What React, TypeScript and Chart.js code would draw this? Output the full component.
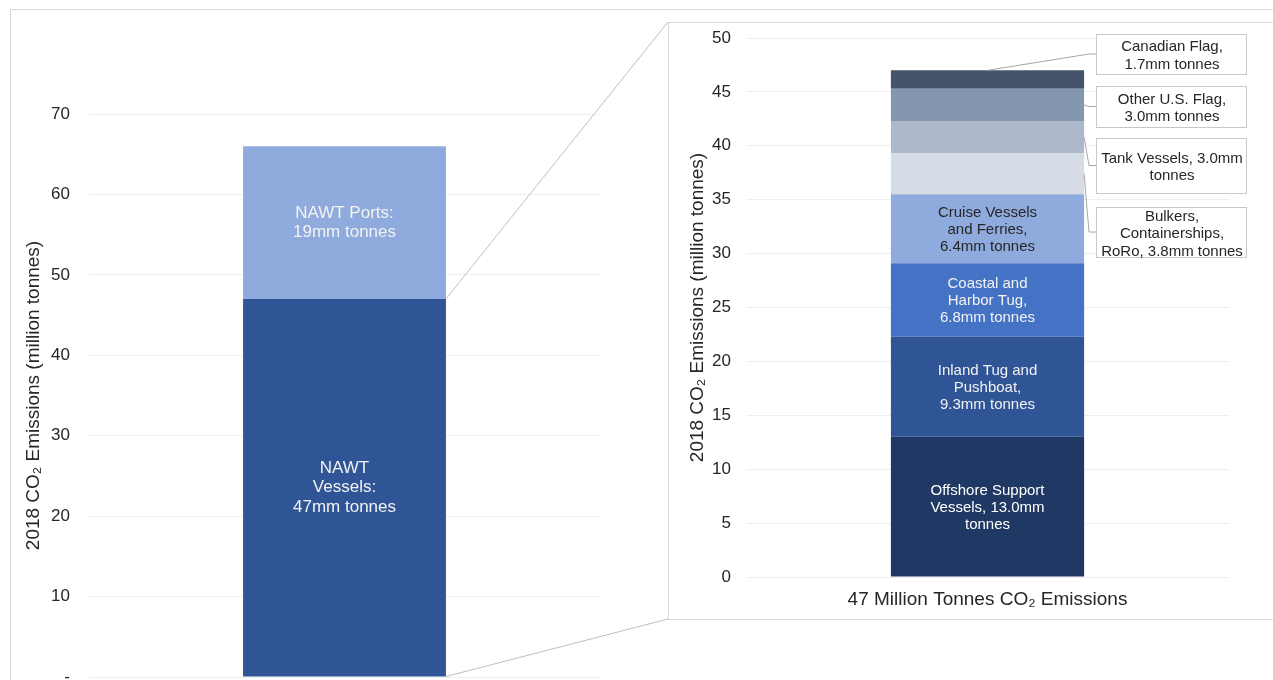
import React, { useEffect, useRef } from 'react';
import { Chart, registerables } from 'chart.js';

Chart.register(...registerables);

// ---------- data ----------
const overviewCategories = ['NAWT'];
const overviewSeries = ['NAWT Vessels', 'NAWT Ports'];
const overviewValues = [47, 19];
const overviewLabels = [
  ['NAWT', 'Vessels:', '47mm tonnes'],
  ['NAWT Ports:', '19mm tonnes'],
];
const overviewTicks = [0, 10, 20, 30, 40, 50, 60, 70];

const detailCategories = ['47 Million Tonnes CO₂ Emissions'];
const detailSeries = [
  'Offshore Support Vessels',
  'Inland Tug and Pushboat',
  'Coastal and Harbor Tug',
  'Cruise Vessels and Ferries',
  'Bulkers, Containerships, RoRo',
  'Tank Vessels',
  'Other U.S. Flag',
  'Canadian Flag',
];
const detailValues = [13.0, 9.3, 6.8, 6.4, 3.8, 3.0, 3.0, 1.7];
const detailInsideLabels: (string[] | null)[] = [
  ['Offshore Support', 'Vessels, 13.0mm', 'tonnes'],
  ['Inland Tug and', 'Pushboat,', '9.3mm tonnes'],
  ['Coastal and', 'Harbor Tug,', '6.8mm tonnes'],
  ['Cruise Vessels', 'and Ferries,', '6.4mm tonnes'],
  null,
  null,
  null,
  null,
];
const detailCalloutLabels: (string[] | null)[] = [
  null,
  null,
  null,
  null,
  ['Bulkers,', 'Containerships,', 'RoRo, 3.8mm tonnes'],
  ['Tank Vessels, 3.0mm', 'tonnes'],
  ['Other U.S. Flag,', '3.0mm tonnes'],
  ['Canadian Flag,', '1.7mm tonnes'],
];
const detailTicks = [0, 5, 10, 15, 20, 25, 30, 35, 40, 45, 50];

// ---------- styles ----------
const FONT = "'Liberation Sans', Arial, sans-serif";
const TEXT = '#262626';
const GRID = '#eeeeee';
const overviewColors = ['#2F5597', '#8FAADC'];
const overviewLabelColors = ['#f2f2f2', '#f2f2f2'];
const detailColors = ['#203864', '#2F5597', '#4472C4', '#8FAADC', '#D6DCE5', '#ADB9CA', '#8497B0', '#44546A'];
const detailLabelColors = ['#ffffff', '#f2f2f2', '#f2f2f2', TEXT, TEXT, TEXT, TEXT, TEXT];
// callout boxes (right canvas coordinates): [left, top, right, bottom]
const calloutBoxes: ([number, number, number, number] | null)[] = [
  null,
  null,
  null,
  null,
  [427, 184, 577, 234],
  [427, 115, 577, 170],
  [427, 63, 577, 104],
  [427, 11, 577, 51],
];

Chart.defaults.font.family = FONT;

function drawLines(ctx: CanvasRenderingContext2D, lines: string[], x: number, cy: number, lh: number) {
  const n = lines.length;
  lines.forEach((t, k) => {
    ctx.fillText(t, x, cy + (k - (n - 1) / 2) * lh);
  });
}

export default function App() {
  const leftRef = useRef<HTMLCanvasElement>(null);
  const rightRef = useRef<HTMLCanvasElement>(null);

  useEffect(() => {
    const leftLabels = {
      id: 'leftLabels',
      afterDatasetsDraw(chart: any) {
        const ctx = chart.ctx as CanvasRenderingContext2D;
        ctx.save();
        ctx.font = `17px ${FONT}`;
        ctx.textAlign = 'center';
        ctx.textBaseline = 'middle';
        chart.data.datasets.forEach((_: any, i: number) => {
          const el = chart.getDatasetMeta(i).data[0] as any;
          const { x, y, base } = el.getProps(['x', 'y', 'base'], true);
          ctx.fillStyle = overviewLabelColors[i];
          drawLines(ctx, overviewLabels[i], x, (y + base) / 2, 19.5);
        });
        // connector lines to the detail box
        const el0 = chart.getDatasetMeta(0).data[0] as any;
        const p = el0.getProps(['x', 'y', 'base', 'width'], true);
        const rx = p.x + p.width / 2;
        ctx.strokeStyle = '#bfbfbf';
        ctx.lineWidth = 1;
        ctx.beginPath();
        ctx.moveTo(rx, p.y);
        ctx.lineTo(657, 12);
        ctx.moveTo(rx, p.base);
        ctx.lineTo(657, 609);
        ctx.stroke();
        ctx.restore();
      },
    };

    const rightLabels = {
      id: 'rightLabels',
      afterDatasetsDraw(chart: any) {
        const ctx = chart.ctx as CanvasRenderingContext2D;
        ctx.save();
        ctx.textAlign = 'center';
        ctx.textBaseline = 'middle';
        chart.data.datasets.forEach((_: any, i: number) => {
          const el = chart.getDatasetMeta(i).data[0] as any;
          const { x, y, base, width } = el.getProps(['x', 'y', 'base', 'width'], true);
          const inside = detailInsideLabels[i];
          if (inside) {
            ctx.font = `15px ${FONT}`;
            ctx.fillStyle = detailLabelColors[i];
            drawLines(ctx, inside, x, (y + base) / 2 + 1, 17.3);
          }
          const callout = detailCalloutLabels[i];
          const box = calloutBoxes[i];
          if (callout && box) {
            const [bl, bt, br, bb] = box;
            const bcy = (bt + bb) / 2;
            const isTop = i === chart.data.datasets.length - 1;
            const sx = isTop ? x : x + width / 2;
            const sy = isTop ? y : (y + base) / 2;
            ctx.strokeStyle = '#a6a6a6';
            ctx.lineWidth = 1;
            ctx.beginPath();
            ctx.moveTo(sx, sy);
            ctx.lineTo(bl - 7, bcy);
            ctx.lineTo(bl, bcy);
            ctx.stroke();
            ctx.fillStyle = '#ffffff';
            ctx.fillRect(bl, bt, br - bl, bb - bt);
            ctx.strokeStyle = '#c8c8c8';
            ctx.strokeRect(bl + 0.5, bt + 0.5, br - bl, bb - bt);
            ctx.font = `15px ${FONT}`;
            ctx.fillStyle = TEXT;
            drawLines(ctx, callout, (bl + br) / 2 + 1, bcy + 2, 17.5);
          }
        });
        ctx.restore();
      },
    };

    const lc = new Chart(leftRef.current!, {
      type: 'bar',
      data: {
        labels: overviewCategories,
        datasets: overviewSeries.map((s, i) => ({
          label: s,
          data: [overviewValues[i]],
          backgroundColor: overviewColors[i],
          borderWidth: 0,
          barPercentage: 0.397,
          categoryPercentage: 1,
        })),
      },
      options: {
        responsive: false,
        animation: false,
        devicePixelRatio: 1,
        layout: { padding: { left: 0, right: 68, top: 104, bottom: 33 } },
        plugins: { legend: { display: false }, tooltip: { enabled: false } },
        scales: {
          x: { display: false, stacked: true },
          y: {
            stacked: true,
            min: 0,
            max: 70,
            afterBuildTicks: (s: any) => {
              s.ticks = overviewTicks.map((v) => ({ value: v }));
            },
            afterFit: (s: any) => {
              s.width = 78;
            },
            grid: { color: GRID, drawTicks: false },
            border: { display: false },
            ticks: {
              padding: 19,
              color: TEXT,
              font: { size: 17 },
              callback: (v: any) => (Number(v) === 0 ? '-' : String(v)),
            },
            title: {
              display: true,
              text: '2018 CO₂ Emissions (million tonnes)',
              color: TEXT,
              font: { size: 19 },
              padding: { top: 11, bottom: 0 },
            },
          },
        },
      },
      plugins: [leftLabels],
    } as any);

    const rc = new Chart(rightRef.current!, {
      type: 'bar',
      data: {
        labels: detailCategories,
        datasets: detailSeries.map((s, i) => ({
          label: s,
          data: [detailValues[i]],
          backgroundColor: detailColors[i],
          borderWidth: 0,
          barPercentage: 0.4,
          categoryPercentage: 1,
        })),
      },
      options: {
        responsive: false,
        animation: false,
        devicePixelRatio: 1,
        layout: { padding: { left: 0, right: 44, top: 15, bottom: 0 } },
        plugins: { legend: { display: false }, tooltip: { enabled: false } },
        scales: {
          x: {
            stacked: true,
            grid: { display: false, drawTicks: false },
            border: { display: false },
            afterFit: (s: any) => {
              s.height = 42;
              s.paddingTop = 0;
              s.paddingBottom = 0;
            },
            ticks: { padding: 11, color: TEXT, font: { size: 19 }, maxRotation: 0, autoSkip: false },
          },
          y: {
            stacked: true,
            min: 0,
            max: 50,
            afterBuildTicks: (s: any) => {
              s.ticks = detailTicks.map((v) => ({ value: v }));
            },
            afterFit: (s: any) => {
              s.width = 77;
              s.paddingTop = 0;
              s.paddingBottom = 0;
            },
            grid: { color: GRID, drawTicks: false },
            border: { display: false },
            ticks: { padding: 15, color: TEXT, font: { size: 17 } },
            title: {
              display: true,
              text: '2018 CO₂ Emissions (million tonnes)',
              color: TEXT,
              font: { size: 19 },
              padding: { top: 17, bottom: 0 },
            },
          },
        },
      },
      plugins: [rightLabels],
    } as any);

    return () => {
      lc.destroy();
      rc.destroy();
    };
  }, []);

  return (
    <div
      style={{
        position: 'fixed',
        left: 0,
        top: 0,
        width: 1273,
        height: 680,
        overflow: 'hidden',
        background: '#ffffff',
      }}
    >
      <div
        style={{
          position: 'absolute',
          left: 10,
          top: 9,
          width: 1300,
          height: 700,
          borderLeft: '1px solid #d9d9d9',
          borderTop: '1px solid #d9d9d9',
        }}
      />
      <canvas
        ref={leftRef}
        width={657}
        height={700}
        style={{ position: 'absolute', left: 11, top: 10, width: 657, height: 700 }}
      />
      <div
        style={{
          position: 'absolute',
          left: 668,
          top: 22,
          width: 700,
          height: 596,
          border: '1px solid #d9d9d9',
          background: '#ffffff',
        }}
      />
      <canvas
        ref={rightRef}
        width={604}
        height={596}
        style={{ position: 'absolute', left: 669, top: 23, width: 604, height: 596 }}
      />
    </div>
  );
}
